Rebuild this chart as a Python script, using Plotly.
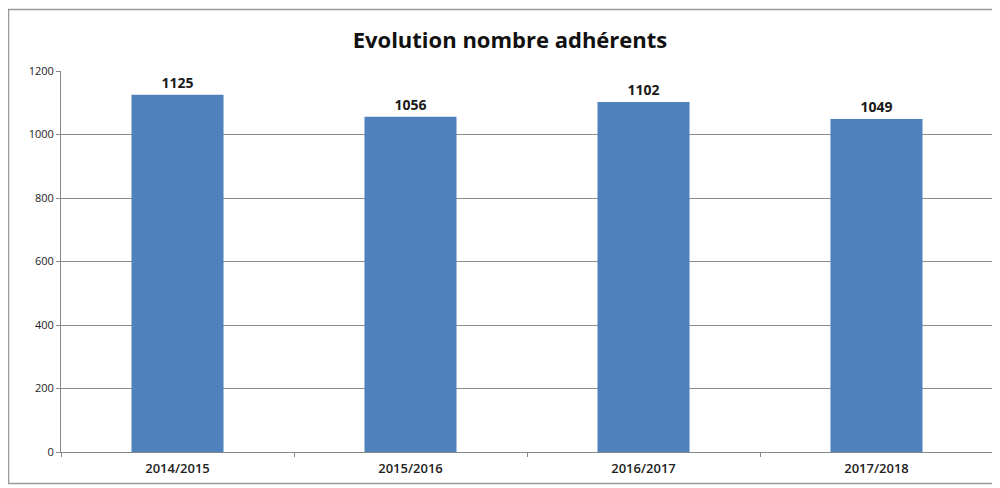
import plotly.graph_objects as go

categories = ["2014/2015", "2015/2016", "2016/2017", "2017/2018"]
values = [1125, 1056, 1102, 1049]
y_ticks = [0, 200, 400, 600, 800, 1000, 1200]

# page has an 8px body margin, so the figure is offset by 8px
OFF = 8
W, H = 1000 - OFF, 488 - OFF
L, R, T, B = 61 - OFF, 7, 71 - OFF, 36
pw, ph = W - L - R, H - T - B

def px(x):
    return (x - OFF - L) / pw

def py(y):
    return (H - B - (y - OFF)) / ph

fig = go.Figure(go.Bar(
    x=categories, y=values,
    marker=dict(color="#4F81BD", line=dict(width=0)),
    width=0.395,
    text=[f"<b>{v}</b>" for v in values],
    textposition="outside",
    textfont=dict(family="Open Sans", size=14, color="#1a1a1a"),
    cliponaxis=False,
))

fig.update_layout(
    width=W, height=H,
    margin=dict(l=L, r=R, t=T, b=B),
    paper_bgcolor="white", plot_bgcolor="white",
    title=dict(text="<b>Evolution nombre adhérents</b>", x=(510 - OFF) / W, xanchor="center",
               y=1 - (40 - OFF) / H, yanchor="middle",
               font=dict(family="Open Sans", size=22, color="#111")),
    showlegend=False,
    xaxis=dict(
        showline=True, linecolor="#888", linewidth=1,
        ticks="outside", ticklen=4, tickcolor="#888",
        tickson="boundaries", ticklabelstandoff=4,
        tickfont=dict(family="Open Sans", size=13, color="#222", weight=600),
        showgrid=False, tickangle=0,
    ),
    yaxis=dict(
        range=[0, 1200], tickvals=y_ticks,
        showline=True, linecolor="#888", linewidth=1,
        ticks="outside", ticklen=4, tickcolor="#888",
        showgrid=True, gridcolor="#8c8c8c", gridwidth=1,
        tickfont=dict(family="Open Sans", size=11, color="#222"),
        zeroline=False,
    ),
    shapes=[dict(type="rect", xref="paper", yref="paper",
                 x0=px(8.5), x1=px(993), y0=py(483.5), y1=py(9.5),
                 line=dict(color="#999", width=1.5), fillcolor="rgba(0,0,0,0)", layer="below")],
)
fig.write_html("out.html")
